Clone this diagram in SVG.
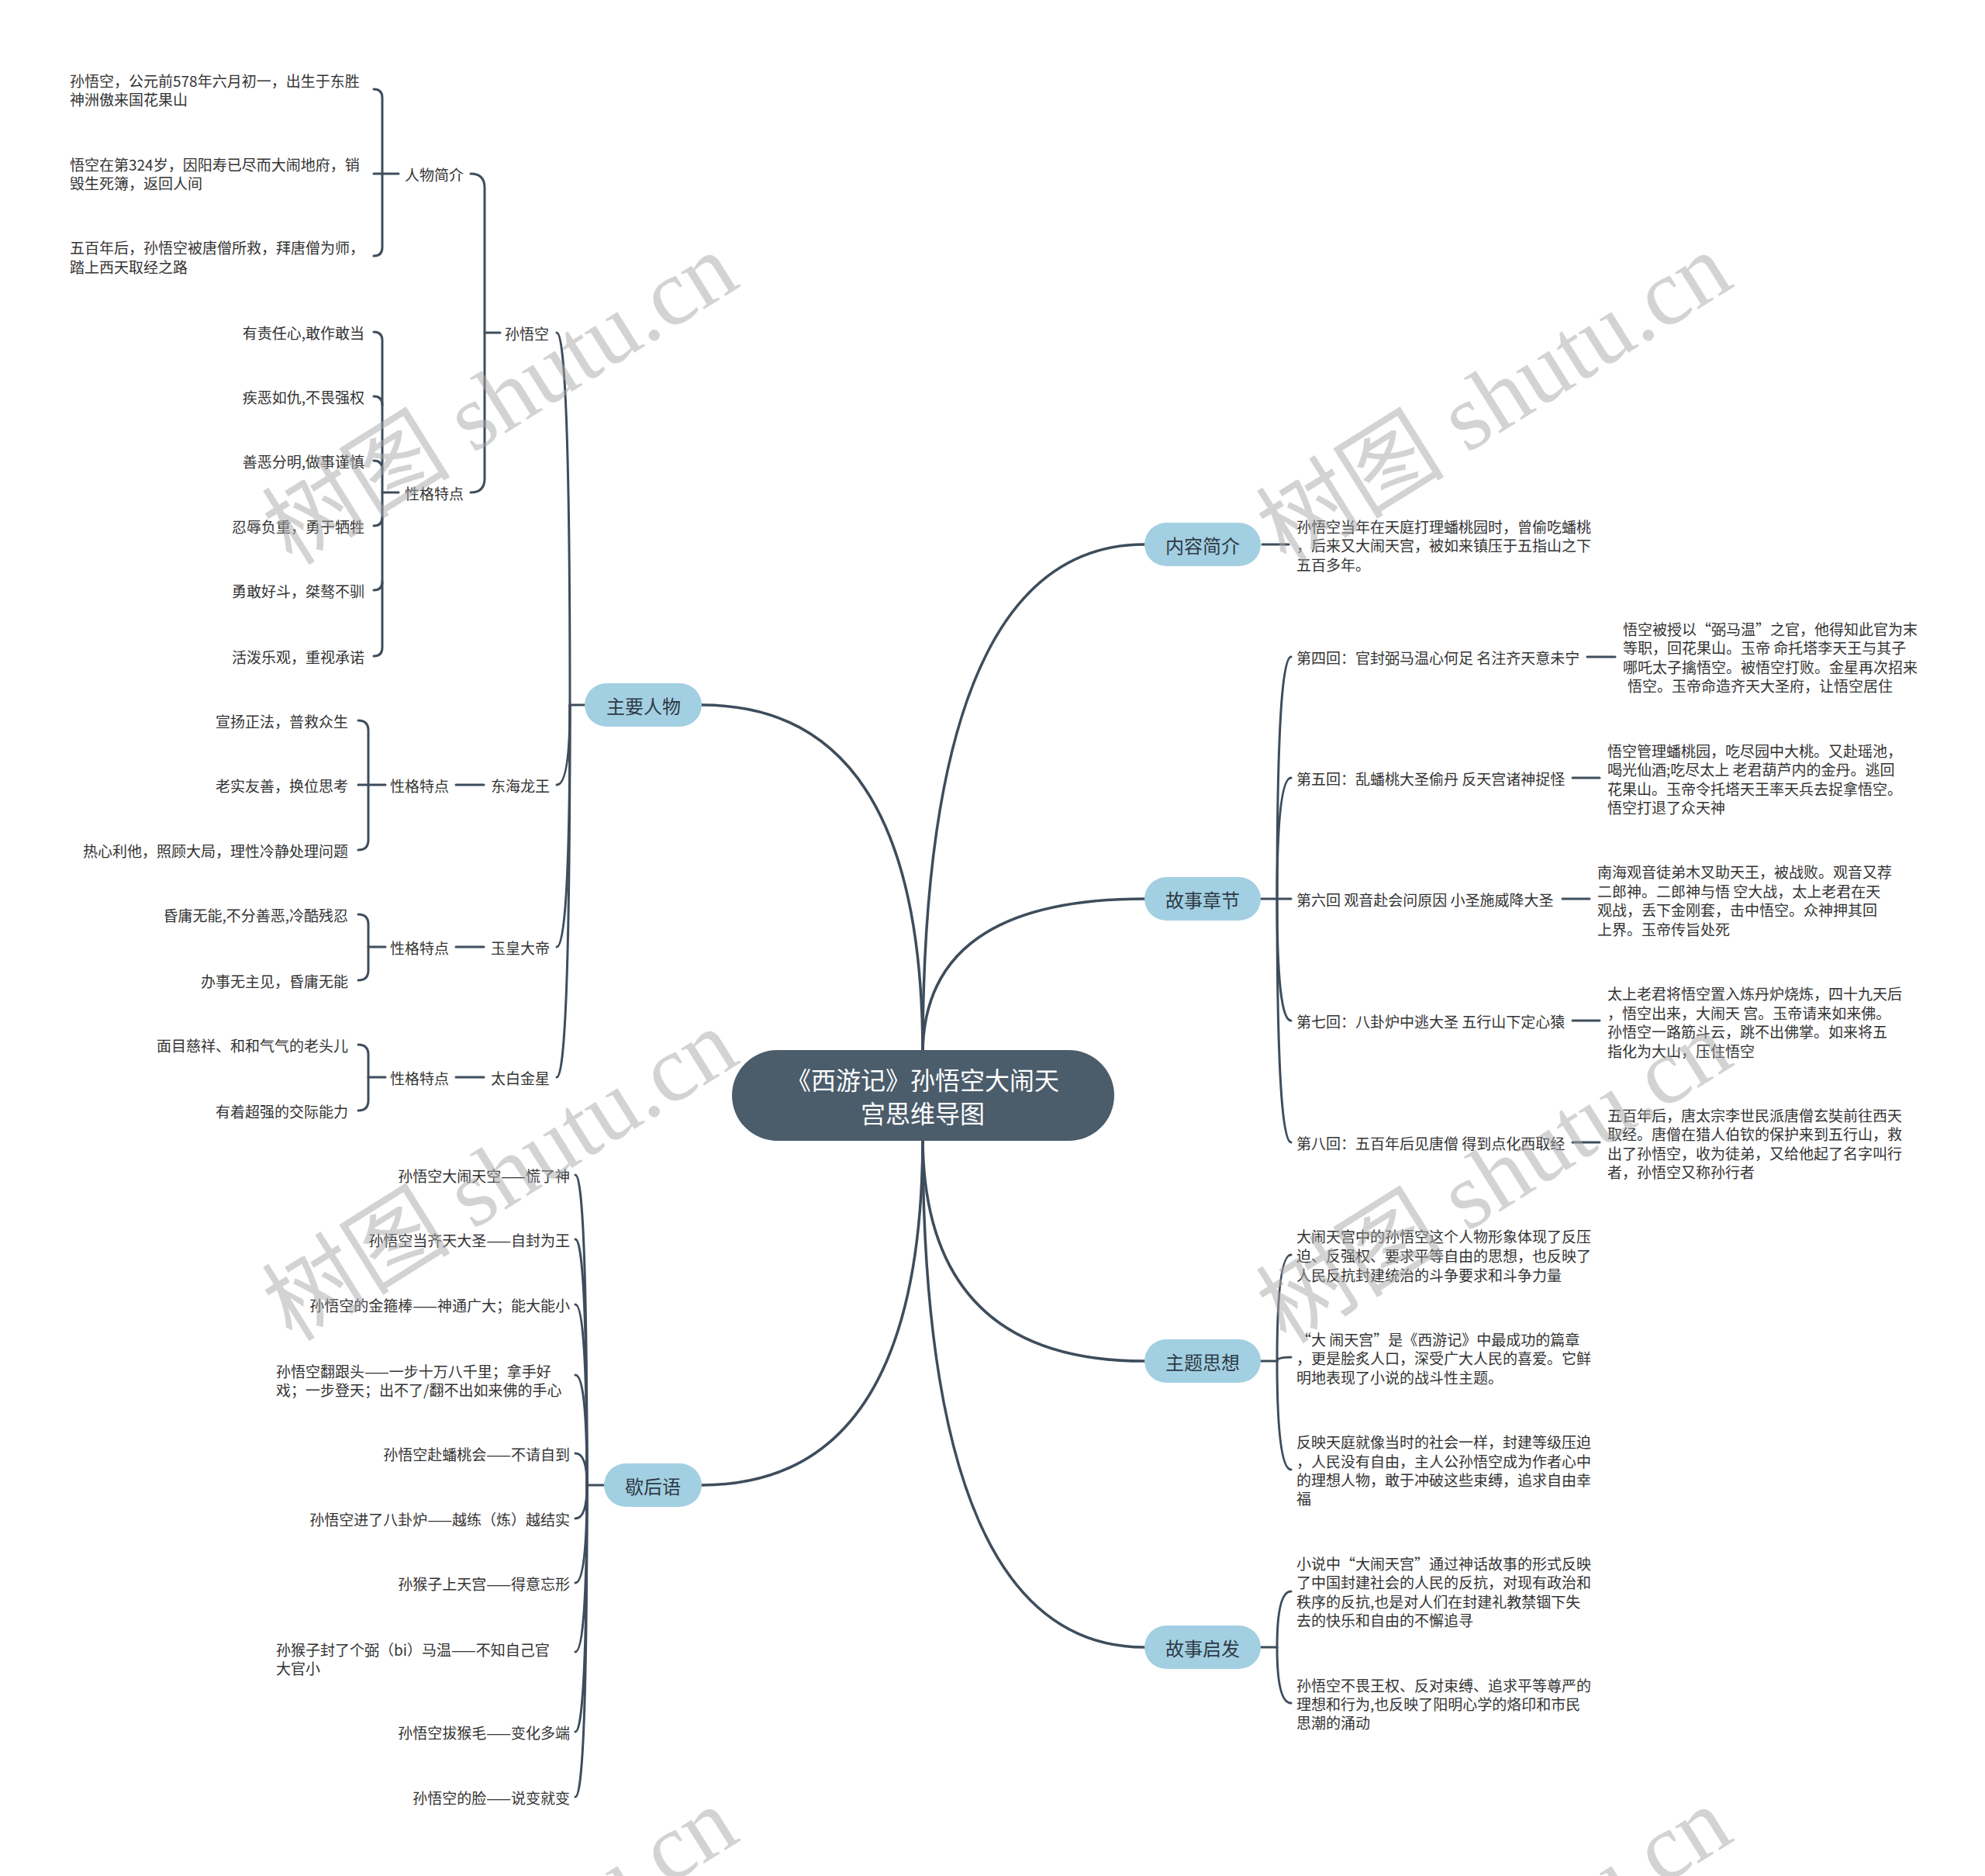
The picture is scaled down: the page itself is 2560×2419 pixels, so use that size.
<svg xmlns="http://www.w3.org/2000/svg" width="2560" height="2419" viewBox="0 0 2560 2419">
<defs>
<style>
.ln{fill:none;stroke:#3e4d5c;stroke-width:3;stroke-linecap:round}
.lm{fill:none;stroke:#3e4d5c;stroke-width:3.5;stroke-linecap:round}
.t{font-family:"Noto Sans CJK SC","Noto Sans",sans-serif;font-size:19px;fill:#333;dominant-baseline:central}
.e{text-anchor:end}
.pill{fill:#a3cfe2}
.pt{font-family:"Noto Sans CJK SC","Noto Sans",sans-serif;font-size:24px;fill:#2d3a45;text-anchor:middle;dominant-baseline:central}
.ct{font-family:"Noto Sans CJK SC","Noto Sans",sans-serif;font-size:32px;fill:#ffffff;text-anchor:middle;dominant-baseline:central}
.wm{font-family:"Liberation Serif","Noto Sans CJK SC",serif;font-size:122px;fill:#a8a8a8;opacity:0.5;text-anchor:middle;dominant-baseline:central}
</style>
</defs>
<rect width="2560" height="2419" fill="#ffffff"/>

<g id="connectors">
  <path class="lm" d="M1190,1360 Q1190,702 1476,702"/>
  <path class="lm" d="M1190,1360 Q1190,1159 1476,1159"/>
  <path class="lm" d="M1190,1360 Q1190,909 905,909"/>
  <path class="lm" d="M1190,1465 Q1190,1755 1476,1755"/>
  <path class="lm" d="M1190,1465 Q1190,2124 1476,2124"/>
  <path class="lm" d="M1190,1465 Q1190,1915 905,1915"/>
  <path class="ln" d="M1628,702 H1662"/>
  <path class="ln" d="M1626,1159 H1647"/>
  <path class="ln" d="M1647,1159 Q1647,847 1665,847"/>
  <path class="ln" d="M1647,1159 Q1647,1003 1665,1003"/>
  <path class="ln" d="M1647,1159 H1665"/>
  <path class="ln" d="M1647,1159 Q1647,1316 1665,1316"/>
  <path class="ln" d="M1647,1159 Q1647,1473 1665,1473"/>
  <path class="ln" d="M2047,847 H2083"/>
  <path class="ln" d="M2028,1003 H2063"/>
  <path class="ln" d="M2015,1159 H2050"/>
  <path class="ln" d="M2028,1316 H2063"/>
  <path class="ln" d="M2028,1473 H2063"/>
  <path class="ln" d="M1626,1755 H1647"/>
  <path class="ln" d="M1647,1755 Q1647,1618 1665,1618"/>
  <path class="ln" d="M1647,1755 Q1647,1750 1665,1750"/>
  <path class="ln" d="M1647,1755 Q1647,1895 1665,1895"/>
  <path class="ln" d="M1626,2124 H1647"/>
  <path class="ln" d="M1647,2124 Q1647,2052 1665,2052"/>
  <path class="ln" d="M1647,2124 Q1647,2196 1665,2196"/>
  <path class="ln" d="M754,909 H735"/>
  <path class="ln" d="M735,909 Q735,429 718,429"/>
  <path class="ln" d="M735,909 Q735,1012 718,1012"/>
  <path class="ln" d="M735,909 Q735,1221 718,1221"/>
  <path class="ln" d="M735,909 Q735,1389 718,1389"/>
  <path class="ln" d="M645,429 H625"/>
  <path class="ln" d="M607,224 Q625,224 625,242 V617 Q625,635 607,635"/>
  <path class="ln" d="M482,115 Q493,115 493,126 V319 Q493,330 482,330"/>
  <path class="ln" d="M482,224 H514"/>
  <path class="ln" d="M482,428 Q493,428 493,439 V835 Q493,846 482,846"/>
  <path class="ln" d="M482,511 Q493,511 493,522"/>
  <path class="ln" d="M482,594 Q493,594 493,605"/>
  <path class="ln" d="M482,678 Q493,678 493,667"/>
  <path class="ln" d="M482,761 Q493,761 493,750"/>
  <path class="ln" d="M493,635 H514"/>
  <path class="ln" d="M588,1012 H624"/>
  <path class="ln" d="M462,929 Q475,929 475,942 V1083 Q475,1096 462,1096"/>
  <path class="ln" d="M462,1012 H497"/>
  <path class="ln" d="M588,1221 H624"/>
  <path class="ln" d="M462,1179 Q475,1179 475,1192 V1251 Q475,1264 462,1264"/>
  <path class="ln" d="M475,1221 H497"/>
  <path class="ln" d="M588,1389 H624"/>
  <path class="ln" d="M462,1347 Q475,1347 475,1360 V1419 Q475,1432 462,1432"/>
  <path class="ln" d="M475,1389 H497"/>
  <path class="ln" d="M779,1915 H757"/>
  <path class="ln" d="M757,1915 Q757,1515 742,1515"/>
  <path class="ln" d="M757,1915 Q757,1598 742,1598"/>
  <path class="ln" d="M757,1915 Q757,1682 742,1682"/>
  <path class="ln" d="M757,1915 Q757,1773 742,1773"/>
  <path class="ln" d="M757,1915 Q757,1874 742,1874"/>
  <path class="ln" d="M757,1915 Q757,1958 742,1958"/>
  <path class="ln" d="M757,1915 Q757,2041 742,2041"/>
  <path class="ln" d="M757,1915 Q757,2130 742,2130"/>
  <path class="ln" d="M757,1915 Q757,2233 742,2233"/>
  <path class="ln" d="M757,1915 Q757,2317 742,2317"/>
</g>

<g id="center">
  <rect x="944" y="1354" width="493" height="117" rx="58.5" fill="#4b5c6b"/>
  <text class="ct" x="1190" y="1391">《西游记》孙悟空大闹天</text>
  <text class="ct" x="1190" y="1434">宫思维导图</text>
</g>

<g id="n-neirongjianjie">
  <rect class="pill" x="1476" y="674" width="150" height="56" rx="28"/>
  <text class="pt" x="1551" y="702">内容简介</text>
</g>
<g id="n-neirong-text">
  <text class="t"><tspan x="1672" y="678">孙悟空当年在天庭打理蟠桃园时，曾偷吃蟠桃</tspan><tspan x="1672" y="702">，后来又大闹天宫，被如来镇压于五指山之下</tspan><tspan x="1672" y="727">五百多年。</tspan></text>
</g>

<g id="n-gushizhangjie">
  <rect class="pill" x="1476" y="1131" width="150" height="56" rx="28"/>
  <text class="pt" x="1551" y="1159">故事章节</text>
</g>
<g id="n-ch4"><text class="t" x="1672" y="847">第四回：官封弼马温心何足 名注齐天意未宁</text></g>
<g id="n-ch4-d"><text class="t"><tspan x="2093" y="810">悟空被授以“弼马温”之官，他得知此官为末</tspan><tspan x="2093" y="834">等职，回花果山。玉帝 命托塔李天王与其子</tspan><tspan x="2093" y="859">哪吒太子擒悟空。被悟空打败。金星再次招来</tspan><tspan x="2099" y="883">悟空。玉帝命造齐天大圣府，让悟空居住</tspan></text></g>
<g id="n-ch5"><text class="t" x="1672" y="1003">第五回：乱蟠桃大圣偷丹 反天宫诸神捉怪</text></g>
<g id="n-ch5-d"><text class="t"><tspan x="2073" y="967">悟空管理蟠桃园，吃尽园中大桃。又赴瑶池，</tspan><tspan x="2073" y="991">喝光仙酒;吃尽太上 老君葫芦内的金丹。逃回</tspan><tspan x="2073" y="1016">花果山。玉帝令托塔天王率天兵去捉拿悟空。</tspan><tspan x="2073" y="1040">悟空打退了众天神</tspan></text></g>
<g id="n-ch6"><text class="t" x="1672" y="1159">第六回 观音赴会问原因 小圣施威降大圣</text></g>
<g id="n-ch6-d"><text class="t"><tspan x="2060" y="1123">南海观音徒弟木叉助天王，被战败。观音又荐</tspan><tspan x="2060" y="1148">二郎神。二郎神与悟 空大战，太上老君在天</tspan><tspan x="2060" y="1172">观战，丢下金刚套，击中悟空。众神押其回</tspan><tspan x="2060" y="1197">上界。玉帝传旨处死</tspan></text></g>
<g id="n-ch7"><text class="t" x="1672" y="1316">第七回：八卦炉中逃大圣 五行山下定心猿</text></g>
<g id="n-ch7-d"><text class="t"><tspan x="2073" y="1280">太上老君将悟空置入炼丹炉烧炼，四十九天后</tspan><tspan x="2073" y="1305">，悟空出来，大闹天 宫。玉帝请来如来佛。</tspan><tspan x="2073" y="1329">孙悟空一路筋斗云，跳不出佛掌。如来将五</tspan><tspan x="2073" y="1354">指化为大山，压住悟空</tspan></text></g>
<g id="n-ch8"><text class="t" x="1672" y="1473">第八回：五百年后见唐僧 得到点化西取经</text></g>
<g id="n-ch8-d"><text class="t"><tspan x="2073" y="1437">五百年后，唐太宗李世民派唐僧玄奘前往西天</tspan><tspan x="2073" y="1461">取经。唐僧在猎人伯钦的保护来到五行山，救</tspan><tspan x="2073" y="1486">出了孙悟空，收为徒弟，又给他起了名字叫行</tspan><tspan x="2073" y="1510">者，孙悟空又称孙行者</tspan></text></g>

<g id="n-zhutisixiang">
  <rect class="pill" x="1476" y="1727" width="150" height="56" rx="28"/>
  <text class="pt" x="1551" y="1755">主题思想</text>
</g>
<g id="n-zt1"><text class="t"><tspan x="1672" y="1593">大闹天宫中的孙悟空这个人物形象体现了反压</tspan><tspan x="1672" y="1618">迫、反强权、要求平等自由的思想，也反映了</tspan><tspan x="1672" y="1643">人民反抗封建统治的斗争要求和斗争力量</tspan></text></g>
<g id="n-zt2"><text class="t"><tspan x="1672" y="1726">“大 闹天宫”是《西游记》中最成功的篇章</tspan><tspan x="1672" y="1750">，更是脍炙人口，深受广大人民的喜爱。它鲜</tspan><tspan x="1672" y="1775">明地表现了小说的战斗性主题。</tspan></text></g>
<g id="n-zt3"><text class="t"><tspan x="1672" y="1858">反映天庭就像当时的社会一样，封建等级压迫</tspan><tspan x="1672" y="1883">，人民没有自由，主人公孙悟空成为作者心中</tspan><tspan x="1672" y="1907">的理想人物，敢于冲破这些束缚，追求自由幸</tspan><tspan x="1672" y="1931">福</tspan></text></g>

<g id="n-gushiqifa">
  <rect class="pill" x="1476" y="2096" width="150" height="56" rx="28"/>
  <text class="pt" x="1551" y="2124">故事启发</text>
</g>
<g id="n-qf1"><text class="t"><tspan x="1672" y="2015">小说中“大闹天宫”通过神话故事的形式反映</tspan><tspan x="1672" y="2039">了中国封建社会的人民的反抗，对现有政治和</tspan><tspan x="1672" y="2064">秩序的反抗,也是对人们在封建礼教禁锢下失</tspan><tspan x="1672" y="2088">去的快乐和自由的不懈追寻</tspan></text></g>
<g id="n-qf2"><text class="t"><tspan x="1672" y="2172">孙悟空不畏王权、反对束缚、追求平等尊严的</tspan><tspan x="1672" y="2196">理想和行为,也反映了阳明心学的烙印和市民</tspan><tspan x="1672" y="2220">思潮的涌动</tspan></text></g>

<g id="n-zhuyaorenwu">
  <rect class="pill" x="754" y="881" width="151" height="56" rx="28"/>
  <text class="pt" x="830" y="909">主要人物</text>
</g>
<g id="n-swk"><text class="t" x="651" y="429">孙悟空</text></g>
<g id="n-rwjj"><text class="t" x="522" y="224">人物简介</text></g>
<g id="n-rw1"><text class="t"><tspan x="90" y="103">孙悟空，公元前578年六月初一，出生于东胜</tspan><tspan x="90" y="127">神洲傲来国花果山</tspan></text></g>
<g id="n-rw2"><text class="t"><tspan x="90" y="211">悟空在第324岁，因阳寿已尽而大闹地府，销</tspan><tspan x="90" y="235">毁生死簿，返回人间</tspan></text></g>
<g id="n-rw3"><text class="t"><tspan x="90" y="318">五百年后，孙悟空被唐僧所救，拜唐僧为师，</tspan><tspan x="90" y="343">踏上西天取经之路</tspan></text></g>
<g id="n-swk-xg"><text class="t" x="522" y="635">性格特点</text></g>
<g id="n-xg1"><text class="t e" x="470" y="428">有责任心,敢作敢当</text></g>
<g id="n-xg2"><text class="t e" x="470" y="511">疾恶如仇,不畏强权</text></g>
<g id="n-xg3"><text class="t e" x="470" y="594">善恶分明,做事谨慎</text></g>
<g id="n-xg4"><text class="t e" x="470" y="678">忍辱负重，勇于牺牲</text></g>
<g id="n-xg5"><text class="t e" x="470" y="761">勇敢好斗，桀骜不驯</text></g>
<g id="n-xg6"><text class="t e" x="470" y="846">活泼乐观，重视承诺</text></g>

<g id="n-dhlw"><text class="t" x="633" y="1012">东海龙王</text></g>
<g id="n-dhlw-xg"><text class="t" x="503" y="1012">性格特点</text></g>
<g id="n-dh1"><text class="t e" x="449" y="929">宣扬正法，普救众生</text></g>
<g id="n-dh2"><text class="t e" x="449" y="1012">老实友善，换位思考</text></g>
<g id="n-dh3"><text class="t e" x="449" y="1096">热心利他，照顾大局，理性冷静处理问题</text></g>

<g id="n-yhdd"><text class="t" x="633" y="1221">玉皇大帝</text></g>
<g id="n-yhdd-xg"><text class="t" x="503" y="1221">性格特点</text></g>
<g id="n-yh1"><text class="t e" x="449" y="1179">昏庸无能,不分善恶,冷酷残忍</text></g>
<g id="n-yh2"><text class="t e" x="449" y="1264">办事无主见，昏庸无能</text></g>

<g id="n-tbjx"><text class="t" x="633" y="1389">太白金星</text></g>
<g id="n-tbjx-xg"><text class="t" x="503" y="1389">性格特点</text></g>
<g id="n-tb1"><text class="t e" x="449" y="1347">面目慈祥、和和气气的老头儿</text></g>
<g id="n-tb2"><text class="t e" x="449" y="1432">有着超强的交际能力</text></g>

<g id="n-xiehouyu">
  <rect class="pill" x="779" y="1887" width="126" height="56" rx="28"/>
  <text class="pt" x="842" y="1915">歇后语</text>
</g>
<g id="n-x1"><text class="t e" x="735" y="1515">孙悟空大闹天空——慌了神</text></g>
<g id="n-x2"><text class="t e" x="735" y="1598">孙悟空当齐天大圣——自封为王</text></g>
<g id="n-x3"><text class="t e" x="735" y="1682">孙悟空的金箍棒——神通广大；能大能小</text></g>
<g id="n-x4"><text class="t"><tspan x="356" y="1767">孙悟空翻跟头——一步十万八千里；拿手好</tspan><tspan x="356" y="1791">戏；一步登天；出不了/翻不出如来佛的手心</tspan></text></g>
<g id="n-x5"><text class="t e" x="735" y="1874">孙悟空赴蟠桃会——不请自到</text></g>
<g id="n-x6"><text class="t e" x="735" y="1958">孙悟空进了八卦炉——越练（炼）越结实</text></g>
<g id="n-x7"><text class="t e" x="735" y="2041">孙猴子上天宫——得意忘形</text></g>
<g id="n-x8"><text class="t"><tspan x="356" y="2126">孙猴子封了个弼（bi）马温——不知自己官</tspan><tspan x="356" y="2150">大官小</tspan></text></g>
<g id="n-x9"><text class="t e" x="735" y="2233">孙悟空拔猴毛——变化多端</text></g>
<g id="n-x10"><text class="t e" x="735" y="2317">孙悟空的脸——说变就变</text></g>

<g id="watermarks">
  <text class="wm" transform="translate(645,514) rotate(-32)">树图 shutu.cn</text>
  <text class="wm" transform="translate(1927,514) rotate(-32)">树图 shutu.cn</text>
  <text class="wm" transform="translate(645,1515) rotate(-32)">树图 shutu.cn</text>
  <text class="wm" transform="translate(1927,1518) rotate(-32)">树图 shutu.cn</text>
  <text class="wm" transform="translate(645,2518) rotate(-32)">树图 shutu.cn</text>
  <text class="wm" transform="translate(1927,2518) rotate(-32)">树图 shutu.cn</text>
</g>
</svg>
